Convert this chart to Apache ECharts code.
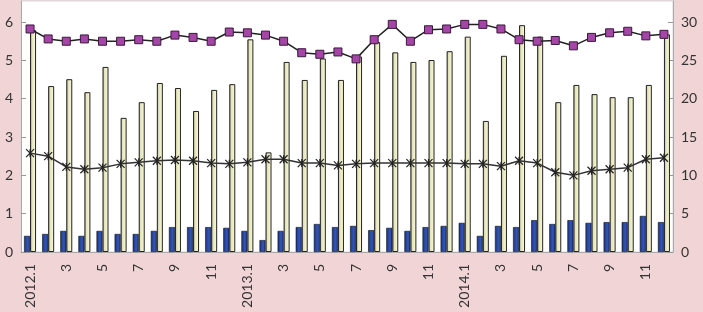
<!DOCTYPE html>
<html>
<head>
<meta charset="utf-8">
<script src="https://cdn.jsdelivr.net/npm/echarts@6/dist/echarts.min.js"></script>
<style>
  html, body { margin: 0; padding: 0; background: #f1d5d6; }
  #chart { width: 703px; height: 312px; }
</style>
</head>
<body>
<div id="chart"></div>
<script>
const months = [
  '2012.1', '2', '3', '4', '5', '6', '7', '8', '9', '10', '11', '12',
  '2013.1', '2', '3', '4', '5', '6', '7', '8', '9', '10', '11', '12',
  '2014.1', '2', '3', '4', '5', '6', '7', '8', '9', '10', '11', '12',
]

// left axis
const blueBars = [
  0.42, 0.47, 0.55, 0.42, 0.55, 0.47, 0.47, 0.55, 0.65, 0.65, 0.65, 0.63,
  0.55, 0.31, 0.55, 0.65, 0.73, 0.65, 0.68, 0.57, 0.63, 0.55, 0.65, 0.68,
  0.76, 0.42, 0.68, 0.65, 0.83, 0.73, 0.83, 0.76, 0.78, 0.78, 0.94, 0.78,
]
const yellowBars = [
  5.79, 4.33, 4.51, 4.17, 4.83, 3.50, 3.91, 4.41, 4.28, 3.68, 4.23, 4.38,
  5.55, 2.60, 4.96, 4.49, 5.05, 4.49, 5.10, 5.48, 5.21, 4.96, 5.01, 5.24,
  5.62, 3.42, 5.12, 5.92, 5.62, 3.91, 4.36, 4.12, 4.04, 4.04, 4.36, 5.68,
]

// right axis
const squareLine = [
  29.1, 27.8, 27.5, 27.8, 27.5, 27.5, 27.7, 27.5, 28.3, 28.0, 27.5, 28.7,
  28.6, 28.3, 27.5, 26.0, 25.8, 26.1, 25.2, 27.7, 29.7, 27.5, 29.0, 29.1,
  29.7, 29.7, 29.1, 27.7, 27.5, 27.6, 26.9, 28.0, 28.6, 28.8, 28.2, 28.4,
]
const crossLine = [
  12.9, 12.5, 11.1, 10.8, 11.0, 11.5, 11.7, 11.9, 12.0, 11.9, 11.6, 11.5,
  11.7, 12.1, 12.1, 11.6, 11.6, 11.3, 11.5, 11.6, 11.6, 11.6, 11.6, 11.6,
  11.5, 11.5, 11.2, 11.9, 11.6, 10.4, 10.0, 10.6, 10.8, 11.0, 12.1, 12.3,
]

const chart = echarts.init(document.getElementById('chart'), null, { renderer: 'canvas' })

const labelFont = {
  fontFamily: 'Lato, "Open Sans", sans-serif',
  fontSize: 14,
  color: '#333',
}

const valueAxis = {
  type: 'value',
  min: 0,
  interval: 1,
  axisLine: { show: true, lineStyle: { color: '#aaa' } },
  axisTick: { show: true, inside: true, length: 5, lineStyle: { color: '#999' } },
  splitLine: { show: false },
  axisLabel: Object.assign({ showMaxLabel: false, margin: 8 }, labelFont),
}

chart.setOption({
  backgroundColor: '#f1d5d6',
  animation: false,
  grid: {
    left: 21,
    right: 30,
    top: 1,
    bottom: 60,
    show: true,
    backgroundColor: '#fff',
    borderColor: '#d8d8d8',
    borderWidth: 1,
  },
  xAxis: {
    type: 'category',
    data: months,
    axisLine: { show: true, lineStyle: { color: '#aaa' } },
    axisTick: { show: false },
    axisLabel: Object.assign({ interval: 1, rotate: 90, margin: 12 }, labelFont),
  },
  yAxis: [
    Object.assign({}, valueAxis, { max: 6.55 }),
    Object.assign({}, valueAxis, { max: 32.75, interval: 5 }),
  ],
  series: [
    {
      type: 'bar',
      data: blueBars,
      barWidth: 6,
      barGap: '0%',
      itemStyle: {
        color: new echarts.graphic.LinearGradient(0, 0, 1, 0, [
          { offset: 0, color: '#1c3384' },
          { offset: 0.6, color: '#3256b6' },
          { offset: 1, color: '#1d3586' },
        ]),
        borderColor: '#111',
        borderWidth: 0.6,
      },
    },
    {
      type: 'bar',
      data: yellowBars,
      barWidth: 6,
      itemStyle: {
        color: new echarts.graphic.LinearGradient(0, 0, 1, 0, [
          { offset: 0, color: '#808062' },
          { offset: 0.3, color: '#e2e2bb' },
          { offset: 1, color: '#fdfdda' },
        ]),
        borderColor: '#222',
        borderWidth: 1,
      },
    },
    {
      type: 'line',
      yAxisIndex: 1,
      data: squareLine,
      symbol: 'rect',
      symbolSize: 8,
      lineStyle: { color: '#222', width: 1.5 },
      itemStyle: { color: '#a545a8', borderColor: '#3a1a3a', borderWidth: 1 },
    },
    {
      type: 'line',
      yAxisIndex: 1,
      data: crossLine,
      symbol: 'path://M0,0L10,10M10,0L0,10M5,0L5,10',
      symbolSize: 8,
      lineStyle: { color: '#333', width: 1.5 },
      itemStyle: { color: 'none', borderColor: '#222', borderWidth: 1.2 },
    },
  ],
})
</script>
</body>
</html>
